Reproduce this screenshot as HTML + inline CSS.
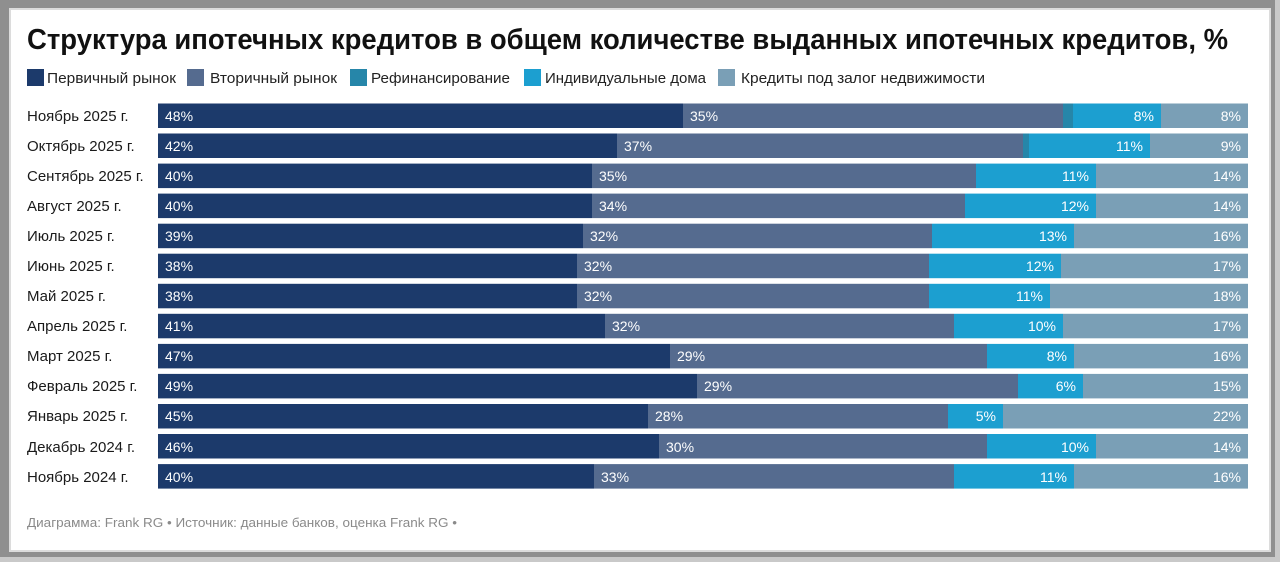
<!DOCTYPE html>
<html><head><meta charset="utf-8">
<style>
html,body{margin:0;padding:0;width:1280px;height:562px;overflow:hidden;background:#8f8f8f;}
svg{display:block;font-family:"Liberation Sans","Noto Sans CJK SC",sans-serif;}
</style></head>
<body>
<svg width="1280" height="562" viewBox="0 0 1280 562" xmlns="http://www.w3.org/2000/svg">
<rect x="0" y="0" width="1280" height="562" fill="#8f8f8f"/>
<rect x="1275" y="0" width="5" height="562" fill="#c9c9c9"/>
<rect x="0" y="557" width="1280" height="5" fill="#c9c9c9"/>
<rect x="9" y="8" width="1262" height="544" fill="#dcdcdc"/>
<rect x="11" y="10" width="1258" height="540" fill="#ffffff"/>

<text x="27" y="49" font-size="28.5" font-weight="bold" fill="#111" textLength="1201" lengthAdjust="spacingAndGlyphs">Структура ипотечных кредитов в общем количестве выданных ипотечных кредитов, %</text>

<g font-size="15" fill="#222">
<rect x="27" y="69" width="17" height="17" fill="#1c3a6b"/>
<text x="47" y="83" textLength="129" lengthAdjust="spacingAndGlyphs">Первичный рынок</text>
<rect x="187" y="69" width="17" height="17" fill="#556b8f"/>
<text x="210" y="83" textLength="127" lengthAdjust="spacingAndGlyphs">Вторичный рынок</text>
<rect x="350" y="69" width="17" height="17" fill="#2686a9"/>
<text x="371" y="83" textLength="139" lengthAdjust="spacingAndGlyphs">Рефинансирование</text>
<rect x="524" y="69" width="17" height="17" fill="#1c9fd0"/>
<text x="545" y="83" textLength="161" lengthAdjust="spacingAndGlyphs">Индивидуальные дома</text>
<rect x="718" y="69" width="17" height="17" fill="#7a9fb6"/>
<text x="741" y="83" textLength="244" lengthAdjust="spacingAndGlyphs">Кредиты под залог недвижимости</text>
</g>

<g id="bars"></g>

<text x="27" y="527" font-size="13" fill="#8a8a8a" textLength="430" lengthAdjust="spacingAndGlyphs">Диаграмма: Frank RG • Источник: данные банков, оценка Frank RG •</text>

<g font-size="15" fill="#1a1a1a">
<text x="27" y="121">Ноябрь 2025 г.</text>
<text x="27" y="151">Октябрь 2025 г.</text>
<text x="27" y="181">Сентябрь 2025 г.</text>
<text x="27" y="211">Август 2025 г.</text>
<text x="27" y="241">Июль 2025 г.</text>
<text x="27" y="271">Июнь 2025 г.</text>
<text x="27" y="301">Май 2025 г.</text>
<text x="27" y="331">Апрель 2025 г.</text>
<text x="27" y="361">Март 2025 г.</text>
<text x="27" y="391">Февраль 2025 г.</text>
<text x="27" y="421">Январь 2025 г.</text>
<text x="27" y="452">Декабрь 2024 г.</text>
<text x="27" y="482">Ноябрь 2024 г.</text>
</g>

<g font-size="14" fill="#ffffff">
<!-- row 1 -->
<rect x="158" y="103.5" width="525" height="24.5" fill="#1c3a6b"/>
<rect x="683" y="103.5" width="380" height="24.5" fill="#556b8f"/>
<rect x="1063" y="103.5" width="10" height="24.5" fill="#2686a9"/>
<rect x="1073" y="103.5" width="88" height="24.5" fill="#1c9fd0"/>
<rect x="1161" y="103.5" width="87" height="24.5" fill="#7a9fb6"/>
<text x="165" y="121">48%</text><text x="690" y="121">35%</text>
<text x="1154" y="121" text-anchor="end">8%</text><text x="1241" y="121" text-anchor="end">8%</text>
<!-- row 2 -->
<rect x="158" y="133.5" width="459" height="24.5" fill="#1c3a6b"/>
<rect x="617" y="133.5" width="406" height="24.5" fill="#556b8f"/>
<rect x="1023" y="133.5" width="6" height="24.5" fill="#2686a9"/>
<rect x="1029" y="133.5" width="121" height="24.5" fill="#1c9fd0"/>
<rect x="1150" y="133.5" width="98" height="24.5" fill="#7a9fb6"/>
<text x="165" y="151">42%</text><text x="624" y="151">37%</text>
<text x="1143" y="151" text-anchor="end">11%</text><text x="1241" y="151" text-anchor="end">9%</text>
<!-- row 3 -->
<rect x="158" y="163.6" width="434" height="24.5" fill="#1c3a6b"/>
<rect x="592" y="163.6" width="384" height="24.5" fill="#556b8f"/>
<rect x="976" y="163.6" width="120" height="24.5" fill="#1c9fd0"/>
<rect x="1096" y="163.6" width="152" height="24.5" fill="#7a9fb6"/>
<text x="165" y="181">40%</text><text x="599" y="181">35%</text>
<text x="1089" y="181" text-anchor="end">11%</text><text x="1241" y="181" text-anchor="end">14%</text>
<!-- row 4 -->
<rect x="158" y="193.6" width="434" height="24.5" fill="#1c3a6b"/>
<rect x="592" y="193.6" width="373" height="24.5" fill="#556b8f"/>
<rect x="965" y="193.6" width="131" height="24.5" fill="#1c9fd0"/>
<rect x="1096" y="193.6" width="152" height="24.5" fill="#7a9fb6"/>
<text x="165" y="211">40%</text><text x="599" y="211">34%</text>
<text x="1089" y="211" text-anchor="end">12%</text><text x="1241" y="211" text-anchor="end">14%</text>
<!-- row 5 -->
<rect x="158" y="223.7" width="425" height="24.5" fill="#1c3a6b"/>
<rect x="583" y="223.7" width="349" height="24.5" fill="#556b8f"/>
<rect x="932" y="223.7" width="142" height="24.5" fill="#1c9fd0"/>
<rect x="1074" y="223.7" width="174" height="24.5" fill="#7a9fb6"/>
<text x="165" y="241">39%</text><text x="590" y="241">32%</text>
<text x="1067" y="241" text-anchor="end">13%</text><text x="1241" y="241" text-anchor="end">16%</text>
<!-- row 6 -->
<rect x="158" y="253.7" width="419" height="24.5" fill="#1c3a6b"/>
<rect x="577" y="253.7" width="352" height="24.5" fill="#556b8f"/>
<rect x="929" y="253.7" width="132" height="24.5" fill="#1c9fd0"/>
<rect x="1061" y="253.7" width="187" height="24.5" fill="#7a9fb6"/>
<text x="165" y="271">38%</text><text x="584" y="271">32%</text>
<text x="1054" y="271" text-anchor="end">12%</text><text x="1241" y="271" text-anchor="end">17%</text>
<!-- row 7 -->
<rect x="158" y="283.8" width="419" height="24.5" fill="#1c3a6b"/>
<rect x="577" y="283.8" width="352" height="24.5" fill="#556b8f"/>
<rect x="929" y="283.8" width="121" height="24.5" fill="#1c9fd0"/>
<rect x="1050" y="283.8" width="198" height="24.5" fill="#7a9fb6"/>
<text x="165" y="301">38%</text><text x="584" y="301">32%</text>
<text x="1043" y="301" text-anchor="end">11%</text><text x="1241" y="301" text-anchor="end">18%</text>
<!-- row 8 -->
<rect x="158" y="313.8" width="447" height="24.5" fill="#1c3a6b"/>
<rect x="605" y="313.8" width="349" height="24.5" fill="#556b8f"/>
<rect x="954" y="313.8" width="109" height="24.5" fill="#1c9fd0"/>
<rect x="1063" y="313.8" width="185" height="24.5" fill="#7a9fb6"/>
<text x="165" y="331">41%</text><text x="612" y="331">32%</text>
<text x="1056" y="331" text-anchor="end">10%</text><text x="1241" y="331" text-anchor="end">17%</text>
<!-- row 9 -->
<rect x="158" y="343.9" width="512" height="24.5" fill="#1c3a6b"/>
<rect x="670" y="343.9" width="317" height="24.5" fill="#556b8f"/>
<rect x="987" y="343.9" width="87" height="24.5" fill="#1c9fd0"/>
<rect x="1074" y="343.9" width="174" height="24.5" fill="#7a9fb6"/>
<text x="165" y="361">47%</text><text x="677" y="361">29%</text>
<text x="1067" y="361" text-anchor="end">8%</text><text x="1241" y="361" text-anchor="end">16%</text>
<!-- row 10 -->
<rect x="158" y="373.9" width="539" height="24.5" fill="#1c3a6b"/>
<rect x="697" y="373.9" width="321" height="24.5" fill="#556b8f"/>
<rect x="1018" y="373.9" width="65" height="24.5" fill="#1c9fd0"/>
<rect x="1083" y="373.9" width="165" height="24.5" fill="#7a9fb6"/>
<text x="165" y="391">49%</text><text x="704" y="391">29%</text>
<text x="1076" y="391" text-anchor="end">6%</text><text x="1241" y="391" text-anchor="end">15%</text>
<!-- row 11 -->
<rect x="158" y="404" width="490" height="24.5" fill="#1c3a6b"/>
<rect x="648" y="404" width="300" height="24.5" fill="#556b8f"/>
<rect x="948" y="404" width="55" height="24.5" fill="#1c9fd0"/>
<rect x="1003" y="404" width="245" height="24.5" fill="#7a9fb6"/>
<text x="165" y="421">45%</text><text x="655" y="421">28%</text>
<text x="996" y="421" text-anchor="end">5%</text><text x="1241" y="421" text-anchor="end">22%</text>
<!-- row 12 -->
<rect x="158" y="434" width="501" height="24.5" fill="#1c3a6b"/>
<rect x="659" y="434" width="328" height="24.5" fill="#556b8f"/>
<rect x="987" y="434" width="109" height="24.5" fill="#1c9fd0"/>
<rect x="1096" y="434" width="152" height="24.5" fill="#7a9fb6"/>
<text x="165" y="452">46%</text><text x="666" y="452">30%</text>
<text x="1089" y="452" text-anchor="end">10%</text><text x="1241" y="452" text-anchor="end">14%</text>
<!-- row 13 -->
<rect x="158" y="464.1" width="436" height="24.5" fill="#1c3a6b"/>
<rect x="594" y="464.1" width="360" height="24.5" fill="#556b8f"/>
<rect x="954" y="464.1" width="120" height="24.5" fill="#1c9fd0"/>
<rect x="1074" y="464.1" width="174" height="24.5" fill="#7a9fb6"/>
<text x="165" y="482">40%</text><text x="601" y="482">33%</text>
<text x="1067" y="482" text-anchor="end">11%</text><text x="1241" y="482" text-anchor="end">16%</text>
</g>
</svg>
</body></html>
